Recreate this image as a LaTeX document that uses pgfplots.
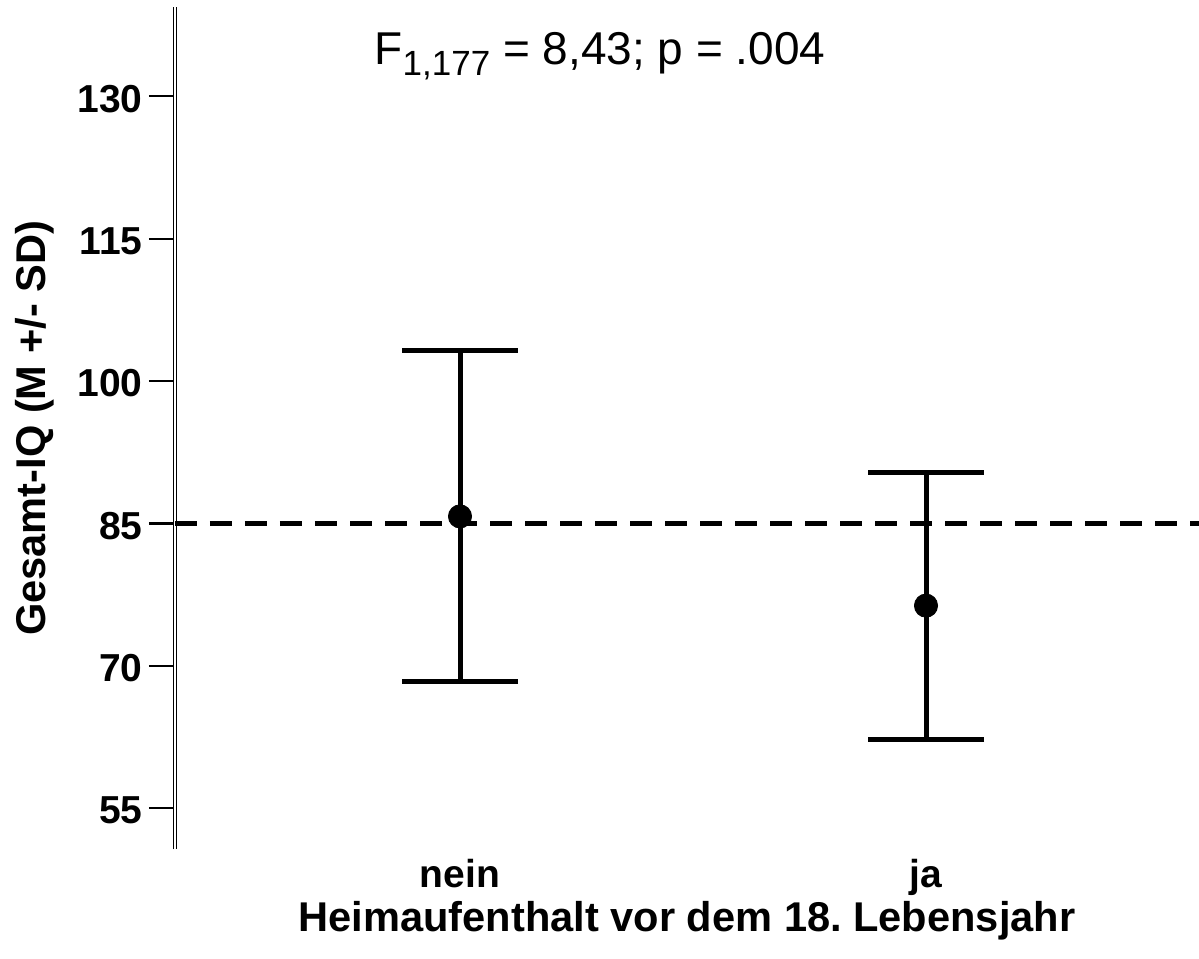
\documentclass[border=0pt]{standalone}
\usepackage{fontspec}
\setmainfont{Liberation Sans}
\usepackage{pgfplots}
\pgfplotsset{compat=1.18}
\pgfplotstableread{
x y e
1 85.75 17.43
2 76.35 14.05
}\datatab
\begin{document}
\frenchspacing
\begin{tikzpicture}
\begin{axis}[
  name=ax,
  scale only axis,
  width=512pt, height=421pt,
  xmin=0.3884, xmax=2.5858,
  ymin=50.68, ymax=139.38,
  axis x line=bottom,
  axis y line=left,
  x axis line style={draw=none},
  y axis line style={-, double, line width=0.65pt, double distance=0.65pt, black},
  xtick={1,2}, xticklabels={nein,ja},
  xtick style={draw=none},
  ytick={55,70,85,100,115,130},
  ytick style={line width=1.15pt, black},
  tick align=outside,
  major tick length=13pt,
  /pgf/number format/assume math mode=true,
  ticklabel style={font=\fontsize{19.5}{22}\selectfont\bfseries},
  yticklabel style={anchor=east, inner sep=0pt, xshift=-3pt, yshift=-1.2pt},
  xticklabel style={anchor=base, inner sep=0pt, yshift=-6pt},
  xlabel={Heimaufenthalt vor dem 18.\ Lebensjahr},
  ylabel={Gesamt-IQ (M +/- SD)},
  label style={font=\fontsize{20.8}{24}\selectfont\bfseries},
  xlabel style={at={(axis description cs:0.5,0)}, anchor=base, inner sep=0pt, yshift=-41.2pt},
  ylabel style={at={(axis description cs:-0.126,0.5)}, anchor=base, inner sep=0pt, rotate=0},
  clip=false,
]
\addplot[black, line width=2.3pt, dash pattern=on 10.8pt off 6.7pt] coordinates {(0.3884,85) (2.5858,85)};
\addplot[only marks, black, mark=*, mark size=5.8pt, mark options={fill=black, line width=0.4pt},
  error bars/.cd, y dir=both, y explicit,
  error bar style={line width=2.5pt, black},
  error mark options={rotate=90, mark size=29pt, line width=2.5pt, black}]
  table[x=x, y=y, y error=e] {\datatab};
\node[anchor=base, font=\fontsize{23}{26}\selectfont] at (axis description cs:0.415,0.9315)
  {F\raisebox{-5.5pt}{\fontsize{17.5}{20}\selectfont 1,177} = 8,43; p = .004};
\end{axis}
\pgfresetboundingbox
\path ([shift={(-87.5pt,-54.35pt)}]ax.south west) rectangle ([shift={(0pt,3.65pt)}]ax.north east);
\end{tikzpicture}
\end{document}
